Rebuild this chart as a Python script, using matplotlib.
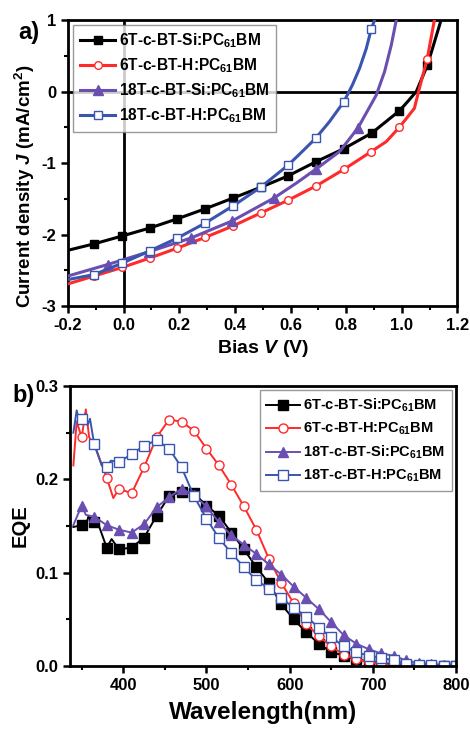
import numpy as np
import matplotlib
matplotlib.use("Agg")
import matplotlib.pyplot as plt
from matplotlib.ticker import MultipleLocator

plt.rcParams["font.family"] = ["Liberation Sans", "DejaVu Sans"]
plt.rcParams["font.weight"] = "bold"
plt.rcParams["mathtext.fontset"] = "custom"
plt.rcParams["mathtext.rm"] = "Liberation Sans:bold"
plt.rcParams["mathtext.bf"] = "Liberation Sans:bold"
plt.rcParams["mathtext.it"] = "Liberation Sans:italic:bold"

# LABELS
labels = [
    r"6T-c-BT-Si:PC$_{\mathrm{61}}$BM",
    r"6T-c-BT-H:PC$_{\mathrm{61}}$BM",
    r"18T-c-BT-Si:PC$_{\mathrm{61}}$BM",
    r"18T-c-BT-H:PC$_{\mathrm{61}}$BM",
]
colors = ["#000000", "#ff2a2a", "#6a4fb0", "#3a55b0"]

# J-V DATA (bias V, current density mA/cm2)
v_6t_si = [-0.2, -0.106, -0.005, 0.093, 0.193, 0.293, 0.393, 0.492, 0.591,
           0.692, 0.791, 0.892, 0.991, 1.021, 1.052, 1.092, 1.141]
j_6t_si = [-2.22, -2.13, -2.02, -1.91, -1.78, -1.64, -1.49, -1.34, -1.18,
           -0.98, -0.80, -0.58, -0.27, -0.14, 0.0, 0.37, 1.0]
v_6t_h = [-0.2, -0.106, -0.005, 0.093, 0.193, 0.293, 0.393, 0.492, 0.591,
          0.692, 0.791, 0.890, 0.944, 0.991, 1.045, 1.063, 1.091, 1.117]
j_6t_h = [-2.69, -2.58, -2.46, -2.33, -2.19, -2.04, -1.88, -1.70, -1.52,
          -1.32, -1.09, -0.84, -0.70, -0.50, -0.235, 0.045, 0.455, 1.0]
v_18t_si = [-0.2, -0.058, 0.092, 0.241, 0.39, 0.54, 0.621, 0.693, 0.776,
            0.842, 0.908, 0.938, 0.962, 0.980]
j_18t_si = [-2.58, -2.42, -2.24, -2.05, -1.81, -1.49, -1.28, -1.08, -0.84,
            -0.51, -0.05, 0.28, 0.65, 1.0]
v_18t_h = [-0.2, -0.106, -0.005, 0.093, 0.193, 0.293, 0.393, 0.492, 0.591,
           0.639, 0.690, 0.740, 0.792, 0.822, 0.848, 0.872, 0.890, 0.902]
j_18t_h = [-2.63, -2.56, -2.40, -2.23, -2.05, -1.84, -1.60, -1.34, -1.03,
           -0.85, -0.655, -0.42, -0.14, 0.09, 0.325, 0.60, 0.874, 1.0]

# indices of the measured points that carry a symbol
jv_mark_idx = [
    list(range(1, 13)) + [15],
    list(range(1, 12)) + [13, 16],
    [1, 2, 3, 4, 5, 7, 9],
    list(range(1, 9)) + [10, 12, 16],
]

# EQE DATA (wavelength nm, EQE)
tail_wl = list(range(425, 801, 15))
wl_6t_si = [340, 350, 354, 358, 365, 370, 380, 386, 395, 410] + tail_wl
eqe_6t_si = [0.149, 0.151, 0.147, 0.160, 0.154, 0.152, 0.127, 0.136, 0.125, 0.127,
             0.1375, 0.161, 0.182, 0.187, 0.185, 0.172, 0.161, 0.143, 0.125, 0.106,
             0.089, 0.066, 0.050, 0.036, 0.024, 0.015, 0.011, 0.007, 0.005, 0.003,
             0.002, 0.001, 0.0005, 0.0, 0.0, 0.0]
wl_6t_h = [340, 344, 350, 355, 359, 365, 380, 388, 395, 410] + tail_wl
eqe_6t_h = [0.215, 0.262, 0.245, 0.275, 0.245, 0.238, 0.202, 0.180, 0.190, 0.185,
            0.213, 0.245, 0.264, 0.262, 0.252, 0.233, 0.215, 0.194, 0.171, 0.146,
            0.115, 0.089, 0.067, 0.045, 0.032, 0.021, 0.012, 0.007, 0.004, 0.0025,
            0.001, 0.0005, 0.0, 0.0, 0.0, 0.0]
wl_18t_si = [340, 350, 355, 365, 380, 395, 410] + tail_wl
eqe_18t_si = [0.151, 0.172, 0.162, 0.160, 0.151, 0.146, 0.143,
              0.152, 0.170, 0.181, 0.190, 0.183, 0.171, 0.154, 0.140, 0.130, 0.120,
              0.109, 0.098, 0.085, 0.073, 0.061, 0.047, 0.033, 0.024, 0.018, 0.0135,
              0.011, 0.006, 0.003, 0.002, 0.0015, 0.0015]
wl_18t_h = [340, 344, 347, 350, 354, 357, 360, 365, 374, 380, 385, 395, 401, 410] + tail_wl
eqe_18t_h = [0.250, 0.274, 0.262, 0.265, 0.270, 0.258, 0.265, 0.238, 0.215, 0.213,
             0.220, 0.219, 0.222, 0.227,
             0.236, 0.242, 0.233, 0.213, 0.182, 0.158, 0.137, 0.121, 0.106, 0.092,
             0.083, 0.0725, 0.0625, 0.053, 0.041, 0.031, 0.021, 0.015, 0.011, 0.009,
             0.006, 0.002, 0.0015, 0.001, 0.0005, 0.0005]

markers = ["s", "o", "^", "s"]
faces = ["#000000", "white", "#6a4fb0", "white"]

fig = plt.figure(figsize=(4.70, 7.29), dpi=100)


def style_axes(ax):
    for s in ax.spines.values():
        s.set_linewidth(2)
    ax.tick_params(which="major", direction="out", length=5, width=1.8,
                   labelsize=12)
    ax.tick_params(which="minor", direction="out", length=3, width=1.5)
    for lab in ax.get_xticklabels() + ax.get_yticklabels():
        lab.set_fontweight("bold")


# PANEL A: J-V CURVES
ax1 = fig.add_axes([0.1447, 0.5802, 0.8287, 0.3923])
ax1.axhline(0, color="black", lw=2, zorder=1)
ax1.axvline(0, color="black", lw=2, zorder=1)

jv_sets = [(v_6t_si, j_6t_si), (v_6t_h, j_6t_h), (v_18t_si, j_18t_si), (v_18t_h, j_18t_h)]
for (v, j), idx, m, fc, c, lab in zip(jv_sets, jv_mark_idx, markers, faces, colors, labels):
    ax1.plot(v, j, color=c, lw=2.2, marker=m, ms=5.5 if m != "^" else 6.5,
             mfc=fc, mec=c, mew=1.0, markevery=idx, label=lab, zorder=3)

ax1.set_xlim(-0.2, 1.2)
ax1.set_ylim(-3, 1)
ax1.xaxis.set_major_locator(MultipleLocator(0.2))
ax1.xaxis.set_minor_locator(MultipleLocator(0.1))
ax1.yaxis.set_major_locator(MultipleLocator(1))
ax1.yaxis.set_minor_locator(MultipleLocator(0.5))
ax1.set_xticks(ax1.get_xticks())
ax1.set_xticklabels([f"{t:.1f}" for t in ax1.get_xticks()])
ax1.set_yticks(ax1.get_yticks())
ax1.set_yticklabels([f"{t:.0f}" for t in ax1.get_yticks()])
ax1.set_xlim(-0.2, 1.2)
ax1.set_ylim(-3, 1)
style_axes(ax1)
ax1.set_xlabel(r"Bias $V$ (V)", fontsize=14, fontweight="bold", labelpad=4)
ax1.set_ylabel(r"Current density $J$ (mA/cm$^{\mathrm{2}}$)", fontsize=13.5,
               fontweight="bold", labelpad=1)
ax1.yaxis.set_label_coords(-0.08, 0.42)
leg1 = ax1.legend(loc="upper left", fontsize=11.2, frameon=True, fancybox=False,
                  edgecolor="#808080", handlelength=2.3, borderaxespad=0.3,
                  handletextpad=0.2, labelspacing=0.4, borderpad=0.45)
leg1.get_frame().set_linewidth(1.0)
fig.text(0.038, 0.946, "a)", fontsize=17, fontweight="bold")

# PANEL B: EQE SPECTRA
ax2 = fig.add_axes([0.149, 0.0864, 0.8213, 0.384])
eqe_sets = [(wl_6t_si, eqe_6t_si), (wl_6t_h, eqe_6t_h), (wl_18t_si, eqe_18t_si),
            (wl_18t_h, eqe_18t_h)]
for (wl, e), m, fc, c, lab in zip(eqe_sets, markers, faces, colors, labels):
    wl = np.array(wl)
    mark = list((wl >= 350) & ((wl - 350) % 15 == 0))
    ax2.plot(wl, e, color=c, lw=1.4, marker=m, ms=6.5 if m != "^" else 7,
             mfc=fc, mec=c, mew=1.0, markevery=mark, label=lab)

ax2.set_xlim(336, 800)
ax2.set_ylim(0, 0.3)
ax2.xaxis.set_major_locator(MultipleLocator(100))
ax2.xaxis.set_minor_locator(MultipleLocator(50))
ax2.yaxis.set_major_locator(MultipleLocator(0.1))
ax2.yaxis.set_minor_locator(MultipleLocator(0.05))
ax2.set_yticks(ax2.get_yticks())
ax2.set_yticklabels([f"{t:.1f}" for t in ax2.get_yticks()])
ax2.set_ylim(0, 0.3)
style_axes(ax2)
ax2.set_xlabel("Wavelength(nm)", fontsize=17.5, fontweight="bold", labelpad=6)
ax2.set_ylabel("EQE", fontsize=14.5, fontweight="bold", labelpad=4)
leg2 = ax2.legend(loc="upper right", fontsize=10.5, frameon=True, fancybox=False,
                  edgecolor="#808080", handlelength=2.3, borderaxespad=0.3,
                  handletextpad=0.2, labelspacing=0.45, borderpad=0.45)
leg2.get_frame().set_linewidth(1.0)
fig.text(0.026, 0.448, "b)", fontsize=17, fontweight="bold")

fig.savefig("out.png", dpi=100)
